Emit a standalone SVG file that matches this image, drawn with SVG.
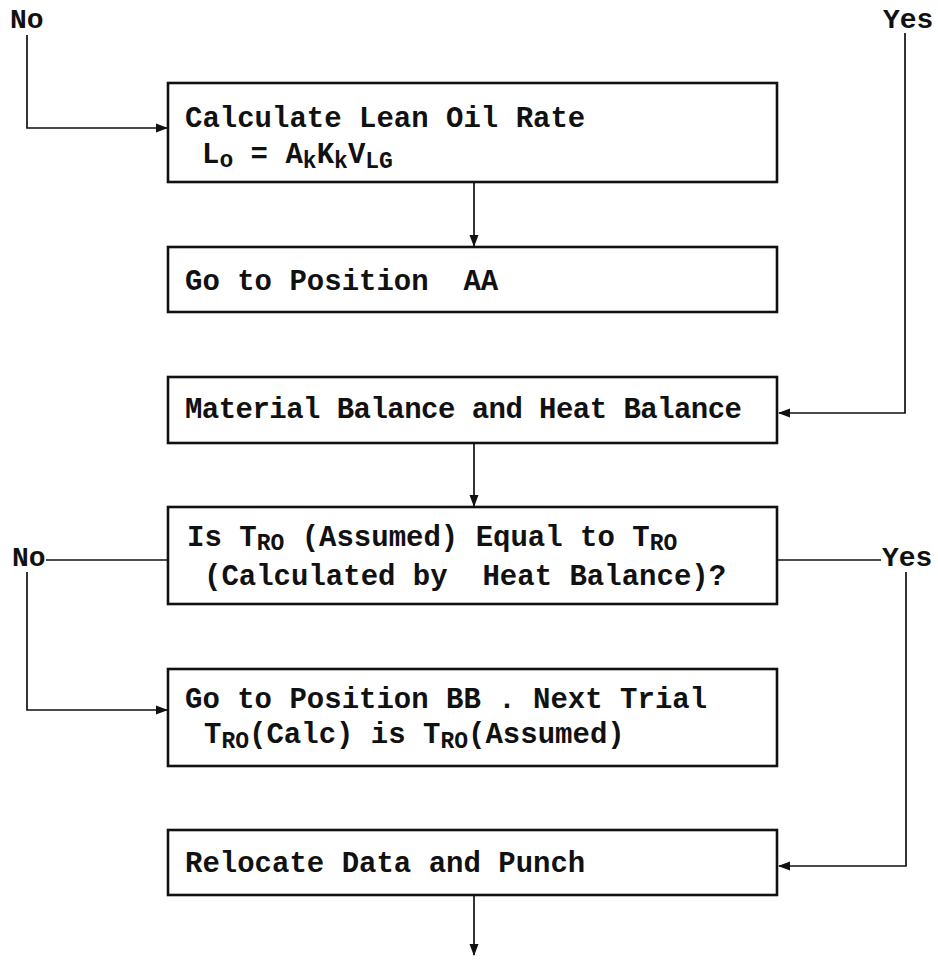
<svg xmlns="http://www.w3.org/2000/svg" width="938" height="960" viewBox="0 0 938 960">
<style>
.box{fill:#fff;stroke:#111;stroke-width:2.6}
.t{font-family:"Liberation Mono","DejaVu Sans Mono",monospace;font-size:29px;font-weight:bold;fill:#111}
.lbl{font-family:"Liberation Mono","DejaVu Sans Mono",monospace;font-size:28px;font-weight:bold;fill:#111}
.s{font-size:23px}
.c{fill:none;stroke:#111;stroke-width:1.7}
</style>
<defs>
<marker id="ah" markerWidth="12" markerHeight="12" refX="11" refY="6" orient="auto" markerUnits="userSpaceOnUse">
<path d="M0,1.5 L12,6 L0,10.5 Z" fill="#111"/>
</marker>
</defs>
<rect width="938" height="960" fill="#fff"/>
<g id="connectors">
<path class="c" d="M27,35 V128 H167" marker-end="url(#ah)"/>
<path class="c" d="M474,182 V246" marker-end="url(#ah)"/>
<path class="c" d="M905,33 V413 H779" marker-end="url(#ah)"/>
<path class="c" d="M474,443 V506" marker-end="url(#ah)"/>
<path class="c" d="M46,560 H168"/>
<path class="c" d="M27,572 V710 H167" marker-end="url(#ah)"/>
<path class="c" d="M777,560 H881"/>
<path class="c" d="M906,572 V866 H779" marker-end="url(#ah)"/>
<path class="c" d="M474,895 V955" marker-end="url(#ah)"/>
</g>
<g id="labels">
<text class="lbl" x="10" y="28">No</text>
<text class="lbl" x="883" y="28">Yes</text>
<text class="lbl" x="12" y="566">No</text>
<text class="lbl" x="882" y="566">Yes</text>
</g>
<g id="n1">
<rect class="box" x="168" y="83" width="609" height="99"/>
<text class="t" x="185" y="127">Calculate Lean Oil Rate</text>
<text class="t" x="202" y="163">L<tspan class="s" dy="4">o</tspan><tspan dy="-4"> = A</tspan><tspan class="s" dy="5">k</tspan><tspan dy="-5">K</tspan><tspan class="s" dy="5">k</tspan><tspan dy="-5">V</tspan><tspan class="s" dy="5">LG</tspan></text>
</g>
<g id="n2">
<rect class="box" x="168" y="247" width="609" height="65"/>
<text class="t" x="185" y="290" xml:space="preserve">Go to Position  AA</text>
</g>
<g id="n3">
<rect class="box" x="168" y="377" width="609" height="66"/>
<text class="t" x="185" y="418" textLength="557" lengthAdjust="spacing">Material Balance and Heat Balance</text>
</g>
<g id="n4">
<rect class="box" x="168" y="507" width="609" height="97"/>
<text class="t" x="187" y="546">Is T<tspan class="s" dy="4">RO</tspan><tspan dy="-4"> (Assumed) Equal to T</tspan><tspan class="s" dy="4">RO</tspan></text>
<text class="t" x="204" y="585" xml:space="preserve">(Calculated by  Heat Balance)?</text>
</g>
<g id="n5">
<rect class="box" x="168" y="669" width="609" height="97"/>
<text class="t" x="185" y="708" xml:space="preserve">Go to Position BB . Next Trial</text>
<text class="t" x="204" y="743">T<tspan class="s" dy="5">RO</tspan><tspan dy="-5">(Calc) is T</tspan><tspan class="s" dy="5">RO</tspan><tspan dy="-5">(Assumed)</tspan></text>
</g>
<g id="n6">
<rect class="box" x="168" y="830" width="609" height="65"/>
<text class="t" x="185" y="872">Relocate Data and Punch</text>
</g>
</svg>
